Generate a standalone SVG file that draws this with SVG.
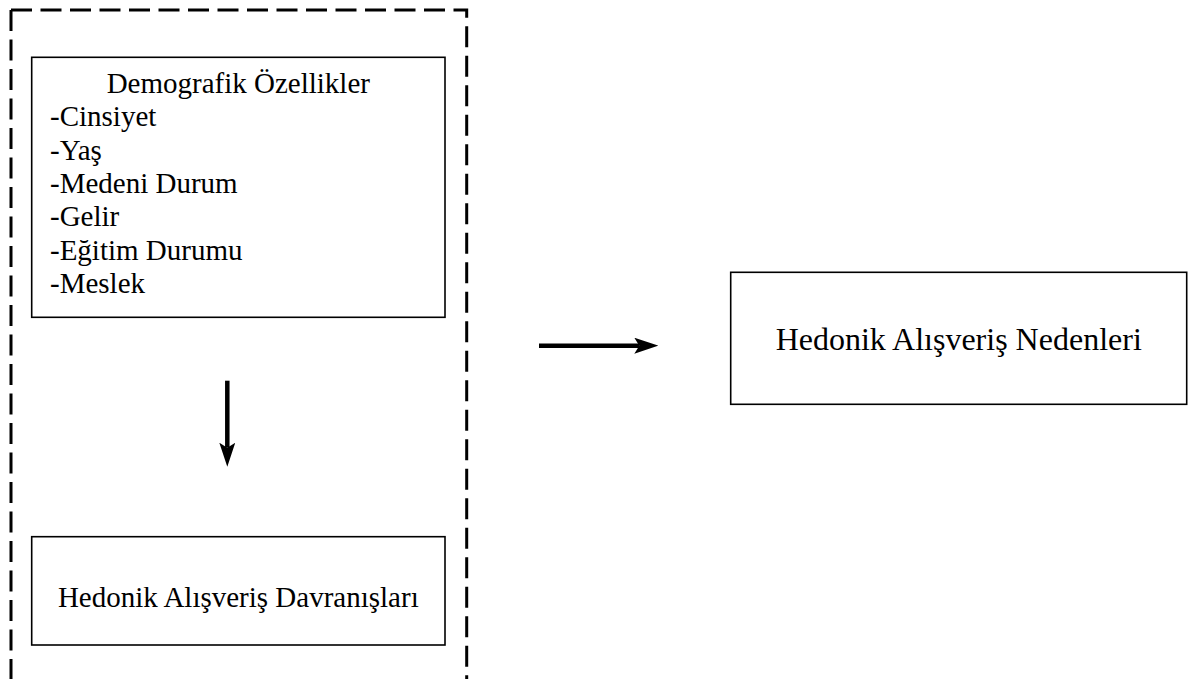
<svg xmlns="http://www.w3.org/2000/svg" width="1194" height="679" viewBox="0 0 1194 679">
  <style>
    .box { fill: #ffffff; stroke: #000000; stroke-width: 1.6; }
    .dash { fill: none; stroke: #000000; stroke-width: 3; stroke-dasharray: 21 8.5; }
    .t { font-family: "Liberation Serif", "Times New Roman", serif; fill: #000000; }
    .conn { stroke: #000000; stroke-width: 4.5; fill: none; }
  </style>
  <defs>
    <marker id="arrow" viewBox="0 0 24 16" markerWidth="24" markerHeight="16" markerUnits="userSpaceOnUse" refX="5" refY="8" orient="auto">
      <path d="M0,0 L24,8 L0,16 L5,8 Z" fill="#000000"/>
    </marker>
  </defs>
  <rect width="1194" height="679" fill="#ffffff"/>

  <g id="group-frame">
    <path class="dash" d="M11,10 H466.7 V700"/>
    <path class="dash" d="M11,10 V700"/>
  </g>

  <g id="node-demografik">
    <rect class="box" x="31.7" y="57.3" width="413.3" height="260"/>
    <text class="t" font-size="29" x="238.3" y="92.7" text-anchor="middle">Demografik Özellikler</text>
    <text class="t" font-size="29">
      <tspan x="50" y="126.1">-Cinsiyet</tspan>
      <tspan x="50" y="159.5">-Yaş</tspan>
      <tspan x="50" y="192.9">-Medeni Durum</tspan>
      <tspan x="50" y="226.3">-Gelir</tspan>
      <tspan x="50" y="259.7">-Eğitim Durumu</tspan>
      <tspan x="50" y="293.1">-Meslek</tspan>
    </text>
  </g>

  <g id="node-davranislar">
    <rect class="box" x="31.7" y="536.7" width="413.3" height="108.3"/>
    <text class="t" font-size="29" x="238.3" y="606.7" text-anchor="middle">Hedonik Alışveriş Davranışları</text>
  </g>

  <g id="node-nedenler">
    <rect class="box" x="730.7" y="272.3" width="456" height="132" stroke-width="2"/>
    <text class="t" font-size="32" x="958.7" y="350" text-anchor="middle">Hedonik Alışveriş Nedenleri</text>
  </g>

  <g id="connectors">
    <line class="conn" x1="227.3" y1="380.7" x2="227.3" y2="447.7" marker-end="url(#arrow)"/>
    <line class="conn" x1="539" y1="345.7" x2="639.3" y2="345.7" marker-end="url(#arrow)"/>
  </g>
</svg>
